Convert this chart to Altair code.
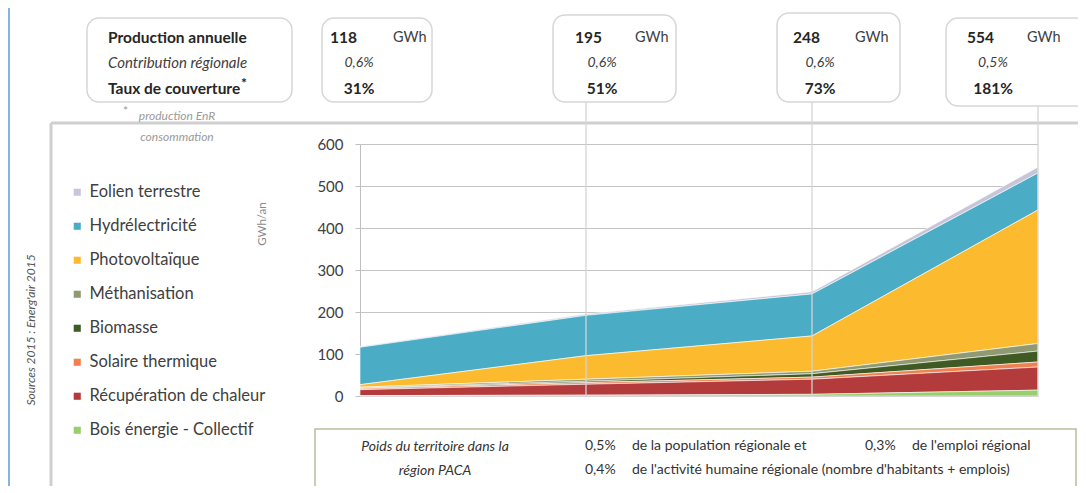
import altair as alt
import pandas as pd

FONT = "Lato"

# ---------------- data ----------------
years = ["2015", "2023", "2 030", "2 050"]
sources = ["Eolien terrestre", "Hydrélectricité", "Photovoltaïque", "Méthanisation",
           "Biomasse", "Solaire thermique", "Récupération de chaleur", "Bois énergie - Collectif"]
colors = ["#c9c5d9", "#4bacc6", "#fcbb2e", "#8f9a72", "#3f5a22", "#f0804f", "#b43b3b", "#98cf6a"]

eolien = [2, 3, 5, 14]
hydro = [89, 96, 100, 88]
pv = [6, 56, 84, 318]
methan = [2, 5, 6, 18]
biomasse = [1, 3, 8, 26]
solaire = [3, 4, 5, 12]
recup = [14, 26, 36, 55]
bois = [1, 2, 4, 14]
series = [eolien, hydro, pv, methan, biomasse, solaire, recup, bois]

prod = ["118", "195", "248", "554"]
contrib = ["0,6%", "0,6%", "0,6%", "0,5%"]
taux = ["31%", "51%", "73%", "181%"]

rows = []
for i, (name, vals) in enumerate(zip(sources, series)):
    for y, v in zip(years, vals):
        rows.append({"year": y, "source": name, "value": v, "rank": len(sources) - i})
df = pd.DataFrame(rows)

# page coordinates of the plot origin (top-left)
OX, OY = 360, 144
W, H = 678, 252

dummy = pd.DataFrame({"k": [0]})


def txt(text, x, y, size=13, weight="normal", style="normal", color="#262626",
        align="left", angle=0, baseline="middle"):
    return alt.Chart(dummy).mark_text(
        text=text, fontSize=size, fontWeight=weight, fontStyle=style, color=color,
        align=align, baseline=baseline, angle=angle, font=FONT
    ).encode(x=alt.value(x - OX), y=alt.value(y - OY))


def box(x1, y1, x2, y2, radius=0, stroke="#d6d6d6", sw=1.5, fill="white"):
    return alt.Chart(dummy).mark_rect(
        cornerRadius=radius, stroke=stroke, strokeWidth=sw, fill=fill
    ).encode(x=alt.value(x1 - OX), x2=alt.value(x2 - OX),
             y=alt.value(y1 - OY), y2=alt.value(y2 - OY))


def line(x1, y1, x2, y2, color="#c8c8c8", sw=1):
    return alt.Chart(dummy).mark_rule(color=color, strokeWidth=sw).encode(
        x=alt.value(x1 - OX), x2=alt.value(x2 - OX),
        y=alt.value(y1 - OY), y2=alt.value(y2 - OY))


layers = []
# outer frame / panel
layers.append(line(9, 0, 9, 493, color="#5b9bd5", sw=1.5))
layers.append(line(51, 123, 1086, 123, color="#cfcfcf", sw=3))
layers.append(line(51, 123, 51, 490, color="#cfcfcf", sw=3))

# top boxes
layers.append(box(87, 18, 292, 102, radius=12))
box_x = [(322, 432), (553, 676), (777, 900), (946, 1090)]
box_y = [(18, 102), (15, 102), (13, 102), (18, 106)]
for (x1, x2), (y1, y2) in zip(box_x, box_y):
    layers.append(box(x1, y1, x2, y2, radius=12))

# bottom box
layers.append(box(315, 429, 1076, 487, radius=0, stroke="#b9bd9c", sw=1.5))

# area chart
area = alt.Chart(df).mark_area(stroke="white", strokeWidth=0.6, opacity=1).encode(
    x=alt.X("year:N", sort=years, scale=alt.Scale(type="point", padding=0),
            axis=alt.Axis(title=None, labelAngle=0, labelFontSize=15, labelColor="#404040",
                          labelFont=FONT, domainColor="#bfbfbf", tickColor="#bfbfbf",
                          tickSize=5, labelPadding=7, grid=False)),
    y=alt.Y("value:Q", stack="zero", scale=alt.Scale(domain=[0, 600], nice=False),
            axis=alt.Axis(title=None, values=[0, 100, 200, 300, 400, 500, 600], grid=True,
                          gridColor="#c4c4c4", gridWidth=1.2, domainColor="#bfbfbf",
                          tickColor="#bfbfbf", tickSize=5, labelFontSize=15,
                          labelColor="#404040", labelFont=FONT, labelPadding=12)),
    color=alt.Color("source:N", scale=alt.Scale(domain=sources, range=colors),
                    legend=alt.Legend(title=None, orient="none", legendX=69 - OX, legendY=184 - OY,
                                      symbolType="square", symbolSize=50, symbolStrokeWidth=0,
                                      labelFontSize=16.5, labelColor="#404040", labelFont=FONT,
                                      rowPadding=17, labelOffset=4, labelLimit=400)),
    order=alt.Order("rank:Q", sort="ascending"),
)
layers.append(area)

# vertical guide lines from boxes to axis
for yr, top in zip(["2023", "2 030", "2 050"], [102, 102, 106]):
    layers.append(
        alt.Chart(pd.DataFrame({"year": [yr]})).mark_rule(color="#d4d4d4", strokeWidth=1.5, opacity=0.85)
        .encode(x=alt.X("year:N", sort=years, axis=None), y=alt.value(top - OY), y2=alt.value(H))
    )

# left box labels
layers.append(txt("Production annuelle", 108, 38, size=15.5, weight="bold"))
layers.append(txt("Contribution régionale", 108, 63, size=15, style="italic", color="#404040"))
layers.append(txt("Taux de couverture", 108, 89, size=15.5, weight="bold"))
layers.append(txt("*", 241, 84, size=14, weight="bold"))

# value boxes
num_x = [330, 575, 793, 967]
gwh_x = [393, 635, 855, 1027]
pct_x = [359, 602, 820, 993]
for p, c, t, nx, gx, px in zip(prod, contrib, taux, num_x, gwh_x, pct_x):
    layers.append(txt(p, nx, 38, size=15.5, weight="bold"))
    layers.append(txt("GWh", gx, 38, size=14.5, color="#404040"))
    layers.append(txt(c, px, 63, size=14, style="italic", color="#404040", align="center"))
    layers.append(txt(t, px, 89, size=15.5, weight="bold", align="center"))

# footnote
layers.append(txt("*", 123, 111, size=12, color="#9a9a9a"))
layers.append(txt("production EnR", 177, 116, size=12, style="italic", color="#9a9a9a", align="center"))
layers.append(txt("consommation", 177, 137, size=12, style="italic", color="#9a9a9a", align="center"))

# axis title and source
layers.append(txt("GWh/an", 263, 224, size=11.5, color="#8a8a8a", align="center", angle=270))
layers.append(txt("Sources 2015 : Energ'air 2015", 31, 330, size=12, style="italic",
                  color="#555555", align="center", angle=270))

# bottom box texts
layers.append(txt("Poids du territoire dans la", 435, 447, size=14, style="italic", color="#333333", align="center"))
layers.append(txt("région PACA", 435, 471, size=14, style="italic", color="#333333", align="center"))
layers.append(txt("0,5%", 585, 446, size=14, color="#333333"))
layers.append(txt("de la population régionale et", 632, 446, size=14, color="#333333"))
layers.append(txt("0,3%", 865, 446, size=14, color="#333333"))
layers.append(txt("de l'emploi régional", 912, 446, size=14, color="#333333"))
layers.append(txt("0,4%", 585, 470, size=14, color="#333333"))
layers.append(txt("de l'activité humaine régionale (nombre d'habitants + emplois)", 632, 470, size=14, color="#333333"))

chart = alt.layer(*layers).properties(
    width=W, height=H,
    padding={"left": OX - 8, "top": OY - 8, "right": 1078 - OX - W, "bottom": 486 - OY - H},
    autosize=alt.AutoSizeParams(type="none"),
    background="white",
).configure_view(strokeWidth=0)

chart.save("out.html", embed_options={"renderer": "svg", "actions": False})
